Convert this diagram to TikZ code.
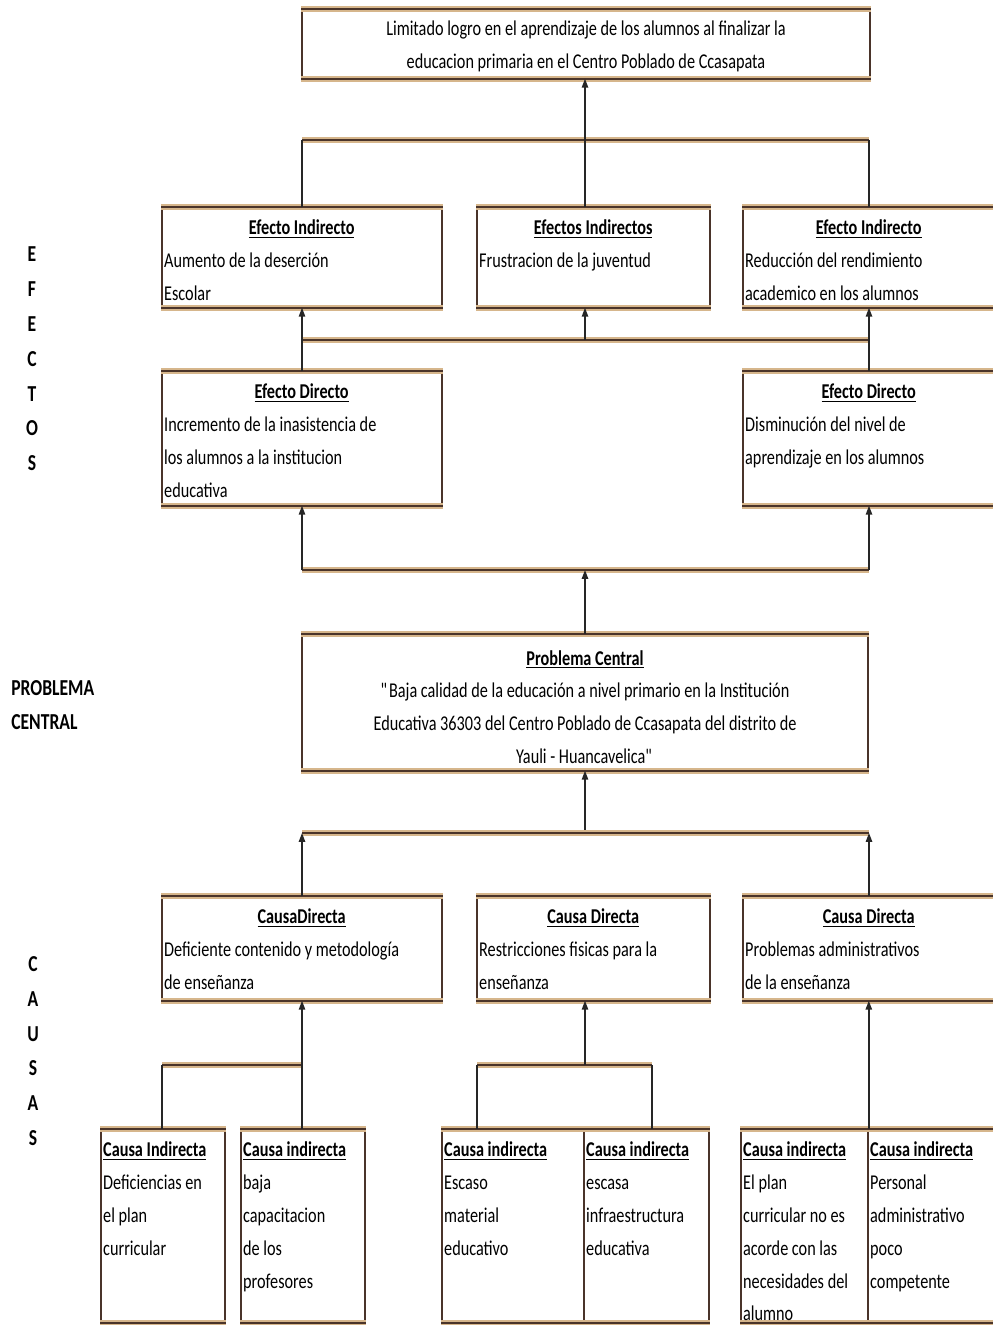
\documentclass[tikz,border=0pt]{standalone}
\usepackage{fontspec}
\setmainfont{Carlito}[FakeStretch=0.77]
\usetikzlibrary{positioning,fit,arrows.meta}
\definecolor{marron}{RGB}{74,52,42}
\definecolor{canela}{RGB}{214,182,140}
\newcommand{\tit}[1]{\underline{\textbf{#1}}}

\begin{document}
\begin{tikzpicture}[x=0.02cm,y=-0.02cm,font=\fontsize{12}{18.7}\selectfont,
  caja/.style={draw=marron,line width=0.9pt,inner sep=0pt},
  borde/.style={draw=marron,line width=1.4pt,preaction={draw=canela,line width=3.2pt}},
  barra/.style={borde},
  linea/.style={draw=black!85,line width=0.8pt},
  flecha/.style={linea,-{Triangle[length=5pt,width=3.6pt]}},
  texto/.style={anchor=north west,inner xsep=1.5pt,inner ysep=0pt,yshift=-7pt,align=left,
    execute at begin node={\spaceskip=0pt\xspaceskip=0pt}},
  lado/.style={font=\fontsize{13}{19.8}\selectfont\bfseries,align=center,inner sep=0pt}]
\useasboundingbox (0,0) rectangle (993,1325);
\clip (0,0) rectangle (993,1325);

% cajas
\foreach \n/\xa/\ya/\xb/\yb in {top/302/10/870/78,
    ei1/162/208/442/307,ei2/477/208/710/307,ei3/743/208/995/307,
    ed1/162/372/442/505,ed2/743/372/995/505,
    pc/302/635/868/770,
    cd1/162/897/442/1000,cd2/477/897/710/1000,cd3/743/897/995/1000,
    ci1/101/1130/225/1322,ci2/241/1130/365/1322,ci3/442/1130/584/1322,
    ci4/584/1130/709/1322,ci5/741/1130/868/1322,ci6/868/1130/995/1322}{
  \node[caja,fit={(\xa,\ya) (\xb,\yb)}] (\n) {};
  \draw[borde] (\n.north west) -- (\n.north east);
  \draw[borde] (\n.south west) -- (\n.south east);
}

% textos
\node[align=center,inner sep=0pt] (top-t) at (586,46) {Limitado logro en el aprendizaje de los alumnos al finalizar la\\
  educacion primaria en el Centro Poblado de Ccasapata};
\node[texto,text width=5.5cm] (ei1-t) at (ei1.north west) {{\centering\tit{Efecto Indirecto}\par}Aumento de la deserción\\Escolar};
\node[texto,text width=4.56cm] (ei2-t) at (ei2.north west) {{\centering\tit{Efectos Indirectos}\par}Frustracion de la juventud};
\node[texto,text width=4.94cm] (ei3-t) at (ei3.north west) {{\centering\tit{Efecto Indirecto}\par}Reducción del rendimiento\\academico en los alumnos};
\node[texto,text width=5.5cm] (ed1-t) at (ed1.north west) {{\centering\tit{Efecto Directo}\par}Incremento de la inasistencia de\\los alumnos a la institucion\\educativa};
\node[texto,text width=4.94cm] (ed2-t) at (ed2.north west) {{\centering\tit{Efecto Directo}\par}Disminución del nivel de\\aprendizaje en los alumnos};
\node[align=center,inner sep=0pt] (pc-t) at (585,707) {\tit{Problema Central}\\
  \textquotedbl Baja calidad de la educación a nivel primario en la Institución\\
  Educativa 36303 del Centro Poblado de Ccasapata del distrito de\\
  Yauli - Huancavelica\textquotedbl};
\node[texto,text width=5.5cm] (cd1-t) at (cd1.north west) {{\centering\tit{CausaDirecta}\par}Deficiente contenido y metodología\\de enseñanza};
\node[texto,text width=4.56cm] (cd2-t) at (cd2.north west) {{\centering\tit{Causa Directa}\par}Restricciones fisicas para la\\enseñanza};
\node[texto,text width=4.94cm] (cd3-t) at (cd3.north west) {{\centering\tit{Causa Directa}\par}Problemas administrativos\\de la enseñanza};
\node[texto,text width=2.6cm] (ci1-t) at (ci1.north west) {\tit{Causa Indirecta}\\Deficiencias en\\el plan\\curricular};
\node[texto,text width=2.6cm] (ci2-t) at (ci2.north west) {\tit{Causa indirecta}\\baja\\capacitacion\\de los\\profesores};
\node[texto,text width=2.6cm] (ci3-t) at (ci3.north west) {\tit{Causa indirecta}\\Escaso\\material\\educativo};
\node[texto,text width=2.6cm] (ci4-t) at (ci4.north west) {\tit{Causa indirecta}\\escasa\\infraestructura\\educativa};
\node[texto,text width=2.6cm] (ci5-t) at (ci5.north west) {\tit{Causa indirecta}\\El plan\\curricular no es\\acorde con las\\necesidades del\\alumno};
\node[texto,text width=2.6cm] (ci6-t) at (ci6.north west) {\tit{Causa indirecta}\\Personal\\administrativo\\poco\\competente};

% rotulos laterales
\node[lado] (efectos) at (32,359) {E\\F\\E\\C\\T\\O\\S};
\node[lado,align=left,anchor=west,font=\fontsize{13}{19.2}\selectfont\bfseries] (central) at (11,705) {PROBLEMA\\CENTRAL};
\node[lado] (causas) at (33,1051) {C\\A\\U\\S\\A\\S};

% efectos
\coordinate (j1) at (585,140);
\draw[barra] (ei1.north |- j1) -- (ei3.north |- j1);
\draw[flecha] (j1) -- (j1 |- top.south);
\draw[linea] (ei1.north) -- (ei1.north |- j1);
\draw[linea] (ei3.north) -- (ei3.north |- j1);
\draw[linea] (j1 |- ei2.north) -- (j1);
\coordinate (j2) at (585,340);
\draw[barra] (ed1.north |- j2) -- (ed2.north |- j2);
\draw[flecha] (ed1.north) -- (ei1.south);
\draw[flecha] (ed2.north) -- (ei3.south);
\draw[flecha] (j2) -- (j2 |- ei2.south);
\coordinate (j3) at (585,570);
\draw[barra] (ed1.south |- j3) -- (ed2.south |- j3);
\draw[flecha] (ed1.south |- j3) -- (ed1.south);
\draw[flecha] (ed2.south |- j3) -- (ed2.south);
\draw[flecha] (pc.north) -- (j3);

% causas
\coordinate (j4) at (585,833);
\draw[flecha] (j4) -- (pc.south);
\draw[barra] (cd1.north |- j4) -- (cd3.north |- j4);
\draw[flecha] (cd1.north) -- (cd1.north |- j4);
\draw[flecha] (cd3.north) -- (cd3.north |- j4);
\coordinate (j5) at (162,1065);
\draw[barra] (j5) -- (j5 -| cd1.south);
\draw[linea] (j5) -- (j5 |- ci1.north);
\draw[flecha] (cd1.south |- ci2.north) -- (cd1.south);
\coordinate (j6) at (585,1065);
\coordinate (k1) at (477,1065);
\coordinate (k2) at (652,1065);
\draw[barra] (k1) -- (k2);
\draw[flecha] (j6) -- (j6 |- cd2.south);
\draw[linea] (k1) -- (k1 |- ci3.north);
\draw[linea] (k2) -- (k2 |- ci4.north);
\draw[flecha] (ci5.north east) -- (ci5.north east |- cd3.south);
\end{tikzpicture}
\end{document}
